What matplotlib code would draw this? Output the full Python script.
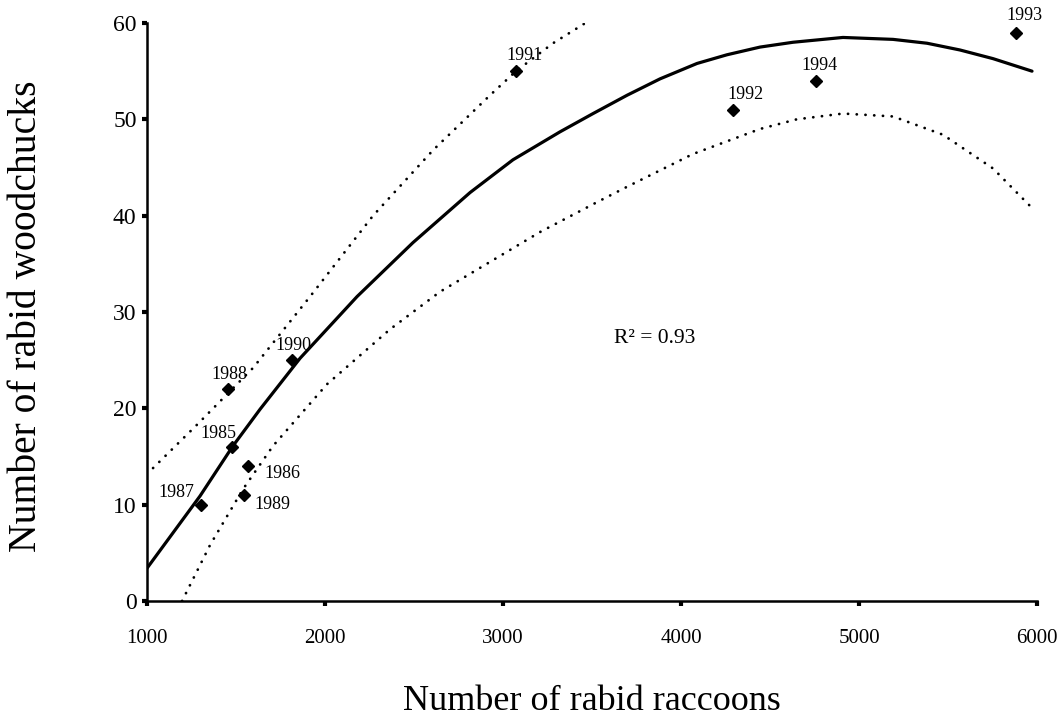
import matplotlib
matplotlib.use("Agg")
import matplotlib.pyplot as plt

# ---- data ----
years = ["1985", "1986", "1987", "1988", "1989", "1990", "1991", "1992", "1993", "1994"]
raccoons = [1478, 1567, 1303, 1455, 1545, 1815, 3073, 4292, 5882, 4758]
woodchucks = [16, 14, 10, 22, 11, 25, 55, 51, 59, 54]

# fitted curve (solid)
fit_x = [1000, 1298, 1483, 1635, 1860, 2180, 2494, 2815, 3056, 3320, 3506, 3697,
         3882, 4090, 4258, 4444, 4629, 4910, 5191, 5382, 5567, 5753, 5972]
fit_y = [3.4, 10.9, 16.1, 19.9, 25.2, 31.6, 37.2, 42.4, 45.8, 48.7, 50.6, 52.5,
         54.2, 55.8, 56.7, 57.5, 58.0, 58.5, 58.3, 57.9, 57.2, 56.3, 55.0]

# upper band (dotted)
up_x = [1034, 1281, 1596, 1916, 2270, 2607, 2927, 3073, 3281, 3489]
up_y = [13.8, 18.3, 24.2, 31.6, 40.0, 46.8, 52.5, 55.0, 57.9, 60.3]

# lower band (dotted)
lo_x = [1197, 1354, 1539, 1708, 2011, 2365, 2646, 3208, 3528, 3697, 4067, 4444,
        4650, 4910, 5191, 5472, 5753, 5972]
lo_y = [0.0, 5.8, 11.6, 16.1, 22.5, 28.2, 32.1, 38.3, 41.4, 43.0, 46.4, 49.0,
        50.0, 50.6, 50.3, 48.4, 44.9, 40.8]

x_ticks = [1000, 2000, 3000, 4000, 5000, 6000]
y_ticks = [0, 10, 20, 30, 40, 50, 60]
r2_text = "R\u00b2 = 0.93"

# label offsets (pixels, y up) for each year annotation
label_offsets = {
    "1985": (-14, 13), "1986": (34, -7), "1987": (-25, 12), "1988": (1, 15),
    "1989": (28, -9), "1990": (1, 15), "1991": (9, 16), "1992": (12, 15),
    "1993": (8, 17), "1994": (4, 15),
}

plt.rcParams["font.family"] = ["Liberation Serif", "DejaVu Serif"]

fig = plt.figure(figsize=(10.63, 7.17), dpi=100)
ax = fig.add_axes([147 / 1063, 1 - 601 / 717, 890 / 1063, 578 / 717])

ax.plot(fit_x, fit_y, color="black", lw=2.3, solid_joinstyle="round",
        solid_capstyle="round")
ax.plot(up_x, up_y, color="black", lw=2.0, linestyle=(0, (0.05, 3.1)),
        dash_capstyle="round")
ax.plot(lo_x, lo_y, color="black", lw=2.0, linestyle=(0, (0.05, 3.1)),
        dash_capstyle="round")

ax.plot(raccoons, woodchucks, linestyle="none", marker="D", ms=6.5,
        color="black", clip_on=False, zorder=5)

for yr, xv, yv in zip(years, raccoons, woodchucks):
    dx, dy = label_offsets[yr]
    ax.annotate(yr, (xv, yv), xytext=(dx, dy), textcoords="offset pixels",
                ha="center", va="center", fontsize=13)

ax.text(3854, 27.3, r2_text, ha="center", va="center", fontsize=15.5)

ax.set_xlim(1000, 6000)
ax.set_ylim(0, 60)
ax.set_xticks(x_ticks)
ax.set_yticks(y_ticks)
ax.tick_params(axis="x", direction="out", length=3.5, width=3, pad=17, labelsize=15)
ax.tick_params(axis="y", direction="out", length=3.5, width=3, pad=4, labelsize=17)

for s in ["top", "right"]:
    ax.spines[s].set_visible(False)
for s in ["left", "bottom"]:
    ax.spines[s].set_linewidth(1.8)

ax.set_xlabel("Number of rabid raccoons", fontsize=26)
ax.set_ylabel("Number of rabid woodchucks", fontsize=28.5)
ax.xaxis.label.set_va("center")
ax.yaxis.label.set_va("center")
ax.xaxis.set_label_coords(0.5, (601 - 701) / 578)
ax.yaxis.set_label_coords((27 - 147) / 890, (601 - 316) / 578)

fig.savefig("out.png", dpi=100)
